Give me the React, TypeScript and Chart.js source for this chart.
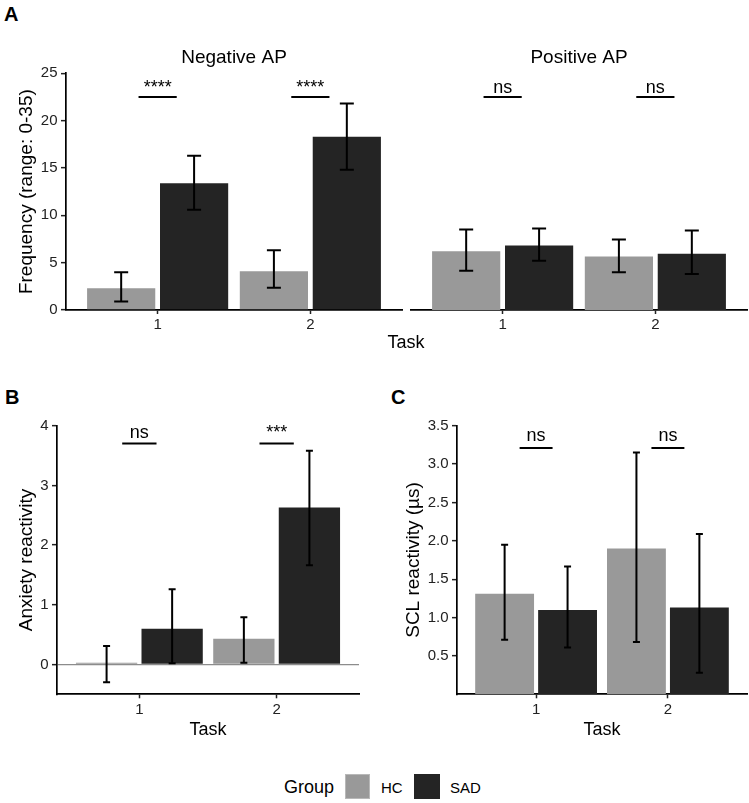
import React, { useEffect, useRef } from "react";
import { Chart, registerables } from "chart.js";

Chart.register(...registerables);

const FONT = "'Liberation Sans', Arial, Helvetica, sans-serif";
Chart.defaults.font.family = FONT;

// ---------- data ----------
const TASKS = ["1", "2"];
const TASK_POS = [1, 2];
const GROUPS = ["HC", "SAD"];

// Panel A – Negative AP
const NEG_HC = [2.3, 4.1];
const NEG_HC_LO = [0.9, 2.35];
const NEG_HC_HI = [4.0, 6.3];
const NEG_SAD = [13.4, 18.3];
const NEG_SAD_LO = [10.6, 14.8];
const NEG_SAD_HI = [16.3, 21.8];
const NEG_SIG = ["****", "****"];

// Panel A – Positive AP
const POS_HC = [6.2, 5.65];
const POS_HC_LO = [4.15, 4.0];
const POS_HC_HI = [8.5, 7.45];
const POS_SAD = [6.8, 5.95];
const POS_SAD_LO = [5.2, 3.8];
const POS_SAD_HI = [8.6, 8.4];
const POS_SIG = ["ns", "ns"];

const A_SIG_Y = 22.5;
const A_Y_TICKS = [0, 5, 10, 15, 20, 25];

// Panel B – Anxiety reactivity
const ANX_HC = [0.03, 0.43];
const ANX_HC_LO = [-0.3, 0.03];
const ANX_HC_HI = [0.31, 0.79];
const ANX_SAD = [0.6, 2.63];
const ANX_SAD_LO = [0.02, 1.66];
const ANX_SAD_HI = [1.26, 3.58];
const ANX_SIG = ["ns", "***"];
const B_SIG_Y = 3.7;
const B_Y_TICKS = [0, 1, 2, 3, 4];

// Panel C – SCL reactivity
const SCL_HC = [1.31, 1.9];
const SCL_HC_LO = [0.71, 0.68];
const SCL_HC_HI = [1.95, 3.15];
const SCL_SAD = [1.1, 1.13];
const SCL_SAD_LO = [0.61, 0.28];
const SCL_SAD_HI = [1.665, 2.09];
const SCL_SIG = ["ns", "ns"];
const C_SIG_Y = 3.21;
const C_Y_TICKS = [0.5, 1, 1.5, 2, 2.5, 3, 3.5];

// ---------- styles ----------
const HC_COLOR = "#999999";
const SAD_COLOR = "#242424";
const TICK_COLOR = "#222222";
const SIG_HALF = 0.125;

type Panel = {
  hc: number[]; hcLo: number[]; hcHi: number[];
  sad: number[]; sadLo: number[]; sadHi: number[];
  sig: string[]; sigY: number;
  yMin: number; yMax: number; yTicks: number[]; decimals: number;
  title?: string; yTitle?: string; xTitle?: string;
};

type Layout = {
  x: number; y: number; w: number; h: number;
  pad: { top: number; right: number; bottom: number; left: number };
  yWidth: number; xHeight: number; showY: boolean;
  titlePad?: { top: number; bottom: number };
  yTitlePad: number; xTitlePad: number;
  cap: number; sigGap: number; zeroLine: boolean;
};

function overlay(p: Panel, L: Layout) {
  return {
    id: "overlay",
    afterDatasetsDraw(chart: any) {
      const ctx = chart.ctx;
      const xs = chart.scales.x;
      const ys = chart.scales.y;
      const los = [p.hcLo, p.sadLo];
      const his = [p.hcHi, p.sadHi];
      ctx.save();
      ctx.strokeStyle = "#000";
      ctx.lineWidth = 2;
      chart.data.datasets.forEach((_: any, di: number) => {
        const meta = chart.getDatasetMeta(di);
        meta.data.forEach((bar: any, j: number) => {
          const cx = bar.x;
          const yl = ys.getPixelForValue(los[di][j]);
          const yh = ys.getPixelForValue(his[di][j]);
          ctx.beginPath();
          ctx.moveTo(cx, yl); ctx.lineTo(cx, yh);
          ctx.moveTo(cx - L.cap, yl); ctx.lineTo(cx + L.cap, yl);
          ctx.moveTo(cx - L.cap, yh); ctx.lineTo(cx + L.cap, yh);
          ctx.stroke();
        });
      });
      ctx.font = `18px ${FONT}`;
      ctx.textAlign = "center";
      ctx.textBaseline = "alphabetic";
      ctx.fillStyle = "#000";
      TASK_POS.forEach((t, j) => {
        const x0 = xs.getPixelForValue(t - SIG_HALF);
        const x1 = xs.getPixelForValue(t + SIG_HALF);
        const py = ys.getPixelForValue(p.sigY);
        ctx.beginPath();
        ctx.moveTo(x0, py); ctx.lineTo(x1, py);
        ctx.stroke();
        ctx.fillText(p.sig[j], (x0 + x1) / 2, py - L.sigGap);
      });
      ctx.restore();
    },
  };
}

function buildConfig(p: Panel, L: Layout): any {
  return {
    type: "bar",
    data: {
      datasets: [
        { label: GROUPS[0], data: TASK_POS.map((x, i) => ({ x, y: p.hc[i] })), backgroundColor: HC_COLOR, borderWidth: 0, categoryPercentage: 0.955, barPercentage: 0.935 },
        { label: GROUPS[1], data: TASK_POS.map((x, i) => ({ x, y: p.sad[i] })), backgroundColor: SAD_COLOR, borderWidth: 0, categoryPercentage: 0.955, barPercentage: 0.935 },
      ],
    },
    options: {
      responsive: false,
      maintainAspectRatio: false,
      animation: false,
      events: [],
      layout: { padding: L.pad },
      plugins: {
        legend: { display: false },
        tooltip: { enabled: false },
        title: p.title
          ? { display: true, text: p.title, fullSize: false, color: "#000", font: { size: 19, weight: "normal", family: FONT }, padding: L.titlePad }
          : { display: false },
      },
      scales: {
        x: {
          type: "linear",
          min: 0.4,
          max: 2.6,
          offset: false,
          afterBuildTicks: (s: any) => { s.ticks = TASK_POS.map((v) => ({ value: v })); },
          afterFit: (s: any) => { s.height = L.xHeight; },
          ticks: {
            callback: (v: number) => { const i = TASK_POS.indexOf(v); return i >= 0 ? TASKS[i] : ""; },
            color: TICK_COLOR, font: { size: 15, family: FONT }, padding: 2.3, maxRotation: 0, autoSkip: false,
          },
          grid: { display: true, offset: false, drawOnChartArea: false, drawTicks: true, tickLength: 4, tickColor: TICK_COLOR, tickWidth: 1.5, color: TICK_COLOR },
          border: { display: true, color: "#000", width: 1.7 },
          title: p.xTitle
            ? { display: true, text: p.xTitle, color: "#000", font: { size: 18, family: FONT }, padding: { top: 0, bottom: L.xTitlePad } }
            : { display: false },
        },
        y: {
          display: L.showY,
          min: p.yMin,
          max: p.yMax,
          afterBuildTicks: (s: any) => { s.ticks = p.yTicks.map((v) => ({ value: v })); },
          afterFit: (s: any) => { s.width = L.showY ? L.yWidth : 0; },
          ticks: {
            callback: (v: number) => v.toFixed(p.decimals),
            color: TICK_COLOR, font: { size: 15, family: FONT }, padding: 3.5,
          },
          grid: {
            display: true,
            drawOnChartArea: L.zeroLine,
            drawTicks: true,
            tickLength: 5,
            tickColor: TICK_COLOR,
            tickWidth: 1.5,
            lineWidth: 1.3,
            color: (c: any) => (L.zeroLine && c.tick && c.tick.value === 0 ? "#8c8c8c" : "rgba(0,0,0,0)"),
          },
          border: { display: true, color: "#000", width: 1.7 },
          title: p.yTitle
            ? { display: true, text: p.yTitle, color: "#000", font: { size: 19, family: FONT }, padding: { top: L.yTitlePad, bottom: 0 } }
            : { display: false },
        },
      },
    },
    plugins: [overlay(p, L)],
  };
}

function BarPanel({ panel, layout }: { panel: Panel; layout: Layout }) {
  const ref = useRef<HTMLCanvasElement>(null);
  useEffect(() => {
    const chart = new Chart(ref.current as HTMLCanvasElement, buildConfig(panel, layout));
    return () => chart.destroy();
  }, []);
  return (
    <canvas
      ref={ref}
      width={layout.w}
      height={layout.h}
      style={{ position: "absolute", left: layout.x, top: layout.y, width: layout.w, height: layout.h }}
    />
  );
}

const negPanel: Panel = {
  hc: NEG_HC, hcLo: NEG_HC_LO, hcHi: NEG_HC_HI, sad: NEG_SAD, sadLo: NEG_SAD_LO, sadHi: NEG_SAD_HI,
  sig: NEG_SIG, sigY: A_SIG_Y, yMin: 0, yMax: 25, yTicks: A_Y_TICKS, decimals: 0,
  title: "Negative AP", yTitle: "Frequency (range: 0-35)",
};
const posPanel: Panel = {
  hc: POS_HC, hcLo: POS_HC_LO, hcHi: POS_HC_HI, sad: POS_SAD, sadLo: POS_SAD_LO, sadHi: POS_SAD_HI,
  sig: POS_SIG, sigY: A_SIG_Y, yMin: 0, yMax: 25, yTicks: A_Y_TICKS, decimals: 0,
  title: "Positive AP",
};
const anxPanel: Panel = {
  hc: ANX_HC, hcLo: ANX_HC_LO, hcHi: ANX_HC_HI, sad: ANX_SAD, sadLo: ANX_SAD_LO, sadHi: ANX_SAD_HI,
  sig: ANX_SIG, sigY: B_SIG_Y, yMin: -0.5, yMax: 4, yTicks: B_Y_TICKS, decimals: 0,
  yTitle: "Anxiety reactivity", xTitle: "Task",
};
const sclPanel: Panel = {
  hc: SCL_HC, hcLo: SCL_HC_LO, hcHi: SCL_HC_HI, sad: SCL_SAD, sadLo: SCL_SAD_LO, sadHi: SCL_SAD_HI,
  sig: SCL_SIG, sigY: C_SIG_Y, yMin: 0, yMax: 3.5, yTicks: C_Y_TICKS, decimals: 1,
  yTitle: "SCL reactivity (µs)", xTitle: "Task",
};

const negLayout: Layout = {
  x: 0, y: 40, w: 405, h: 320,
  pad: { top: 0, right: 3, bottom: 0, left: 0 },
  yWidth: 66, xHeight: 50, showY: true,
  titlePad: { top: 6.4, bottom: 4.1 }, yTitlePad: 15.4, xTitlePad: 0,
  cap: 7, sigGap: 4, zeroLine: false,
};
const posLayout: Layout = {
  x: 405, y: 40, w: 344, h: 320,
  pad: { top: 0, right: 2, bottom: 0, left: 6 },
  yWidth: 0, xHeight: 50, showY: false,
  titlePad: { top: 6.4, bottom: 4.1 }, yTitlePad: 0, xTitlePad: 0,
  cap: 7, sigGap: 4, zeroLine: false,
};
const anxLayout: Layout = {
  x: 0, y: 400, w: 365, h: 345,
  pad: { top: 25.7, right: 6, bottom: 0, left: 0 },
  yWidth: 57, xHeight: 50.7, showY: true,
  yTitlePad: 15.4, xTitlePad: 4.4,
  cap: 3.5, sigGap: 5.5, zeroLine: true,
};
const sclLayout: Layout = {
  x: 370, y: 400, w: 379, h: 345,
  pad: { top: 25.7, right: 2, bottom: 0, left: 0 },
  yWidth: 87, xHeight: 50.7, showY: true,
  yTitlePad: 32.4, xTitlePad: 4.4,
  cap: 3.5, sigGap: 6.5, zeroLine: false,
};

const letterStyle: React.CSSProperties = {
  position: "absolute", fontFamily: FONT, fontWeight: "bold", fontSize: 20, lineHeight: "20px", color: "#000",
};

export default function App() {
  return (
    <div style={{ position: "absolute", left: 0, top: 0, width: 749, height: 803, background: "#fff", overflow: "hidden" }}>
      <div style={{ ...letterStyle, left: 4, top: 4 }}>A</div>
      <div style={{ ...letterStyle, left: 5, top: 387 }}>B</div>
      <div style={{ ...letterStyle, left: 391, top: 387 }}>C</div>
      <BarPanel panel={negPanel} layout={negLayout} />
      <BarPanel panel={posPanel} layout={posLayout} />
      <div style={{ position: "absolute", left: 306, top: 333, width: 200, textAlign: "center", fontFamily: FONT, fontSize: 18, lineHeight: "18px", color: "#000" }}>
        Task
      </div>
      <BarPanel panel={anxPanel} layout={anxLayout} />
      <BarPanel panel={sclPanel} layout={sclLayout} />
      <div style={{ position: "absolute", left: 284, top: 778, fontFamily: FONT, fontSize: 18, lineHeight: "18px", color: "#000" }}>Group</div>
      <div style={{ position: "absolute", left: 345, top: 774, width: 25, height: 25, background: HC_COLOR, boxSizing: "border-box", border: "1px solid #b8b8b8" }} />
      <div style={{ position: "absolute", left: 381, top: 780, fontFamily: FONT, fontSize: 15, lineHeight: "15px", color: "#000" }}>{GROUPS[0]}</div>
      <div style={{ position: "absolute", left: 414, top: 774, width: 26, height: 25, background: SAD_COLOR }} />
      <div style={{ position: "absolute", left: 450, top: 780, fontFamily: FONT, fontSize: 15, lineHeight: "15px", color: "#000" }}>{GROUPS[1]}</div>
    </div>
  );
}
